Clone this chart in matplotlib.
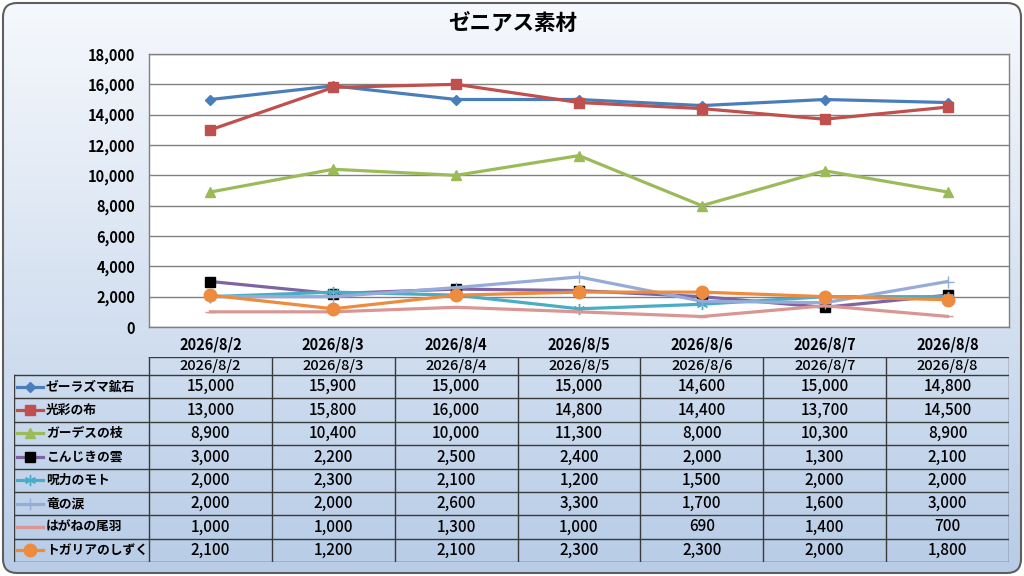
import numpy as np
import matplotlib
matplotlib.use("Agg")
import matplotlib.pyplot as plt
from matplotlib.patches import FancyBboxPatch
from matplotlib.ticker import FuncFormatter, MultipleLocator

plt.rcParams['font.family'] = ['Noto Sans CJK JP', 'DejaVu Sans']

# ---------------- data ----------------
title = "ゼニアス素材"
dates = ["2026/8/2", "2026/8/3", "2026/8/4", "2026/8/5", "2026/8/6", "2026/8/7", "2026/8/8"]
names = ["ゼーラズマ鉱石", "光彩の布", "ガーデスの枝", "こんじきの雲", "呪力のモト", "竜の涙", "はがねの尾羽", "トガリアのしずく"]
zeraz = [15000, 15900, 15000, 15000, 14600, 15000, 14800]
kosai = [13000, 15800, 16000, 14800, 14400, 13700, 14500]
gardes = [8900, 10400, 10000, 11300, 8000, 10300, 8900]
konjiki = [3000, 2200, 2500, 2400, 2000, 1300, 2100]
juryoku = [2000, 2300, 2100, 1200, 1500, 2000, 2000]
ryu = [2000, 2000, 2600, 3300, 1700, 1600, 3000]
hagane = [1000, 1000, 1300, 1000, 690, 1400, 700]
togaria = [2100, 1200, 2100, 2300, 2300, 2000, 1800]
series = [zeraz, kosai, gardes, konjiki, juryoku, ryu, hagane, togaria]

# ---------------- styles ----------------
styles = [
    dict(color="#4A7EBB", marker="D", ms=5.5, mfc="#4A7EBB", mec="#4A7EBB"),
    dict(color="#C0504D", marker="s", ms=7.5, mfc="#C0504D", mec="#C0504D"),
    dict(color="#9BBB59", marker="^", ms=7.5, mfc="#9BBB59", mec="#9BBB59"),
    dict(color="#8064A2", marker="s", ms=7.5, mfc="black", mec="black"),
    dict(color="#4BACC6", marker=(6, 2, 0), ms=8, mfc="#4BACC6", mec="#4BACC6"),
    dict(color="#95ABD8", marker="+", ms=9, mfc="#95ABD8", mec="#95ABD8"),
    dict(color="#DA9694", marker="_", ms=7, mfc="#DA9694", mec="#DA9694"),
    dict(color="#ED8B3F", marker="o", ms=9, mfc="#ED8B3F", mec="#ED8B3F"),
]

W, H = 1024, 576
fig = plt.figure(figsize=(W / 100, H / 100), dpi=100)

# background with gradient and rounded border
bg = fig.add_axes([0, 0, 1, 1])
bg.set_xlim(0, W)
bg.set_ylim(H, 0)
bg.axis("off")
grad = np.linspace(0, 1, 256).reshape(-1, 1)
top = np.array([0.965, 0.975, 0.99])
bot = np.array([0.72, 0.80, 0.905])
img = top + (bot - top) * grad[..., None]
img = np.repeat(img, 2, axis=1)
im = bg.imshow(img, extent=[0, W, H, 0], aspect="auto", zorder=0)
box = FancyBboxPatch((3, 3), W - 6, H - 6, boxstyle="round,pad=0,rounding_size=14",
                     fc="none", ec="#5f5f5f", lw=1.5, zorder=2)
bg.add_patch(box)
im.set_clip_path(box)

fig.text(513 / W, 1 - 23 / H, title, ha="center", va="center", fontsize=15.5, fontweight="bold",
         color="black")

# ---------------- chart ----------------
L, R, T, B = 149, 1009, 54, 327
ax = fig.add_axes([L / W, 1 - B / H, (R - L) / W, (B - T) / H])
ax.set_facecolor("white")
x = np.arange(len(dates))
for vals, st in zip(series, styles):
    ax.plot(x, vals, lw=2.3, solid_joinstyle="round", **st)
ax.set_xlim(-0.5, len(dates) - 0.5)
ax.set_ylim(0, 18000)
ax.yaxis.set_major_locator(MultipleLocator(2000))
ax.yaxis.set_major_formatter(FuncFormatter(lambda v, p: f"{int(v):,}"))
ax.grid(axis="y", color="#808080", lw=1)
ax.set_axisbelow(True)
ax.set_xticks(x)
ax.set_xticklabels(dates)
for sp in ax.spines.values():
    sp.set_color("#808080")
    sp.set_linewidth(1)
ax.tick_params(axis="x", length=0, labelsize=10.5, pad=7)
ax.tick_params(axis="y", length=0, labelsize=10.5, pad=10)
for lab in ax.get_xticklabels() + ax.get_yticklabels():
    lab.set_fontweight("bold")

# ---------------- data table ----------------
colw = (R - L) / len(dates)
TL, TT, TB = 14, 357, 562
hdr_px = 18
row_px = (TB - TT - hdr_px) / len(names)
x0 = -0.5 - (L - TL) / colw
hdr = hdr_px / row_px
tax = fig.add_axes([TL / W, 1 - TB / H, (R - TL) / W, (TB - TT) / H])
tax.set_xlim(x0, len(dates) - 0.5)
tax.set_ylim(len(names), -hdr)
tax.axis("off")
lc = "#3a3a3a"
lw = 1.0
# header row
for j, d in enumerate(dates):
    tax.text(j, -hdr / 2, d, ha="center", va="center", fontsize=10.5, fontweight="medium")
tax.plot([-0.5, len(dates) - 0.5], [-hdr, -hdr], color=lc, lw=lw)
# horizontal lines
for i in range(len(names) + 1):
    tax.plot([x0, len(dates) - 0.5], [i, i], color=lc, lw=lw)
# vertical lines
tax.plot([x0, x0], [0, len(names)], color=lc, lw=lw)
for j in range(len(dates) + 1):
    tax.plot([j - 0.5, j - 0.5], [-hdr, len(names)], color=lc, lw=lw)
# rows
for i, (nm, vals, st) in enumerate(zip(names, series, styles)):
    yc = i + 0.5
    xs = [x0 + 3 / colw, x0 + 29 / colw]
    tax.plot(xs, [yc, yc], lw=2.3, color=st["color"])
    mst = {k: v for k, v in st.items() if k != "color"}
    tax.plot([np.mean(xs)], [yc], linestyle="none", **mst)
    tax.text(x0 + 32 / colw, yc, nm, ha="left", va="center", fontsize=9.2, fontweight="bold")
    for j, v in enumerate(vals):
        tax.text(j, yc, f"{v:,}", ha="center", va="center", fontsize=11, fontweight="medium")

fig.savefig("out.png", dpi=100)
